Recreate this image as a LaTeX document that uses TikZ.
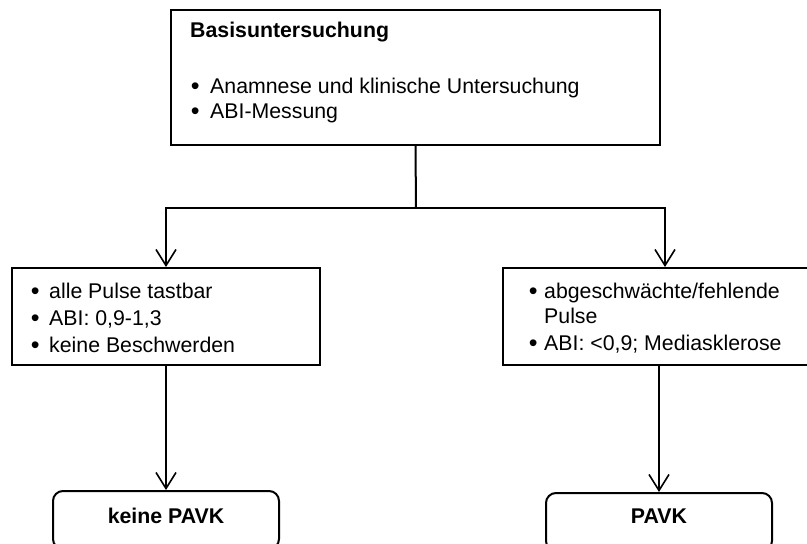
\documentclass[tikz,border=0pt]{standalone}
\usepackage{fontspec}
\setmainfont{Liberation Sans}
\usetikzlibrary{arrows.meta}
\begin{document}
\begin{tikzpicture}[x=1pt,y=-1pt,
  box/.style={draw,line width=2pt,rectangle,inner sep=0pt},
  rbox/.style={draw,line width=2pt,rectangle,rounded corners=10pt,inner sep=0pt},
  txt/.style={anchor=base west,inner sep=0pt,font=\fontsize{21.3}{25}\selectfont},
  bul/.style={anchor=base west,inner sep=0pt,font=\fontsize{25}{25}\selectfont,yshift=-1pt},
  ctxt/.style={anchor=base,inner sep=0pt,font=\fontsize{21.3}{25}\selectfont\bfseries},
  conn/.style={line width=2pt},
  arr/.style={line width=2pt,-{Straight Barb[length=16pt,width=20pt,line width=1.6pt]}}]
\useasboundingbox (0,0) rectangle (807,544);
% boxes
\node[box,minimum width=489pt,minimum height=135pt] (top) at (415.5,77.5) {};
\node[box,minimum width=308pt,minimum height=97pt] (left) at (166,316.5) {};
\node[box,minimum width=324pt,minimum height=97pt] (right) at (665,316.5) {};
\node[rbox,minimum width=226pt,minimum height=58pt] (keine) at (166,520) {};
\node[rbox,minimum width=226pt,minimum height=58pt] (pavk) at (659,522) {};
% texts top
\node[txt,font=\fontsize{21.3}{25}\selectfont\bfseries] (t0) at (190,37) {Basisuntersuchung};
\node[bul] (b1) at (190.6,93) {•};
\node[txt] (t1) at (210,93) {Anamnese und klinische Untersuchung};
\node[bul] (b2) at (190.6,118) {•};
\node[txt] (t2) at (210,118) {ABI-Messung};
% texts left
\node[bul] (lb1) at (30.6,298.5) {•};
\node[txt] (l1) at (49,298.5) {alle Pulse tastbar};
\node[bul] (lb2) at (30.6,325.2) {•};
\node[txt] (l2) at (49,325.2) {ABI: 0,9-1,3};
\node[bul] (lb3) at (30.6,352) {•};
\node[txt] (l3) at (49,352) {keine Beschwerden};
% texts right
\node[bul] (rb1) at (528.6,298) {•};
\node[txt] (r1) at (544,298) {abgeschwächte/fehlende};
\node[txt] (r1b) at (544,323.5) {Pulse};
\node[bul] (rb2) at (528.6,350) {•};
\node[txt] (r2) at (544,350) {ABI: <0,9; Mediasklerose};
% bottom texts
\node[ctxt] (k) at (166,523) {keine PAVK};
\node[ctxt] (p) at (659,523) {PAVK};
% connectors
\coordinate (split) at (416,208);
\draw[conn] (top.south) -- (split);
\draw[arr] (split) -| (left.north);
\draw[arr] (split) -| (right.north);
\draw[arr] (left.south) -- (keine.north);
\draw[arr] (right.south -| pavk.north) -- (pavk.north);
\end{tikzpicture}
\end{document}
